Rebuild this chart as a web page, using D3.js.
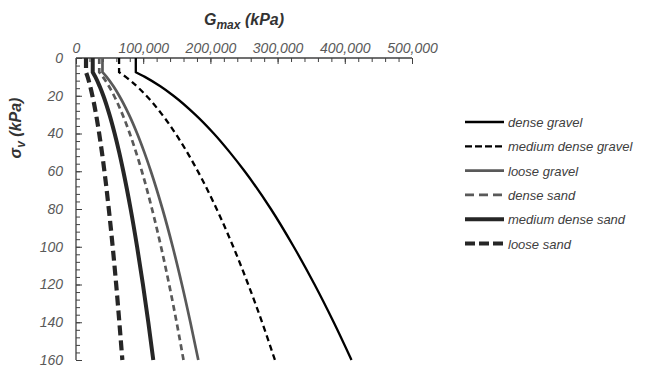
<!DOCTYPE html>
<html>
<head>
<meta charset="utf-8">
<script src="https://cdn.jsdelivr.net/npm/d3@7"></script>
<style>
  body { margin: 0; background: #fff; }
  svg { display: block; font-family: "Liberation Sans", Arial, sans-serif; }
</style>
</head>
<body>
<svg id="chart" width="647" height="368"></svg>
<script>
// vertical effective stress (kPa), read at these levels
const sigmaV = [0, 7.5, 10, 15, 20, 30, 40, 50, 60, 80, 100, 120, 140, 160];

// Gmax (kPa) at the sigmaV levels above
const denseGravel       = [89000, 89000, 102500, 125500, 145000, 177500, 205000, 229000, 251000, 290000, 324000, 355000, 383500, 410000];
const mediumDenseGravel = [64100, 64100, 74000, 90600, 104700, 128200, 148000, 165500, 181300, 209300, 234000, 256300, 276900, 296000];
const looseGravel       = [39400, 39400, 45500, 55700, 64300, 78800, 91000, 101700, 111400, 128700, 143900, 157600, 170200, 182000];
const denseSand         = [34600, 34600, 40000, 49000, 56600, 69300, 80000, 89400, 98000, 113100, 126500, 138600, 149700, 160000];
const mediumDenseSand   = [24900, 24900, 28800, 35200, 40700, 49800, 57500, 64300, 70400, 81300, 90900, 99600, 107600, 115000];
const looseSand         = [14900, 14900, 17300, 21100, 24400, 29900, 34500, 38600, 42300, 48800, 54600, 59800, 64500, 69000];

const xTicks = [0, 100000, 200000, 300000, 400000, 500000];
const yTicks = [0, 20, 40, 60, 80, 100, 120, 140, 160];

const series = [
  { name: 'dense gravel',        values: denseGravel,       color: '#000000', width: 2.3, dash: null,   legDash: null },
  { name: 'medium dense gravel', values: mediumDenseGravel, color: '#000000', width: 2.3, dash: '6,4',  legDash: '7,3' },
  { name: 'loose gravel',        values: looseGravel,       color: '#595959', width: 2.7, dash: null,   legDash: null },
  { name: 'dense sand',          values: denseSand,         color: '#595959', width: 2.7, dash: '6,4',  legDash: '9,5' },
  { name: 'medium dense sand',   values: mediumDenseSand,   color: '#262626', width: 4,   dash: null,   legDash: null },
  { name: 'loose sand',          values: looseSand,         color: '#262626', width: 4.2, dash: '10,5', legDash: '10,4' }
];

const svg = d3.select('#chart');
const m = { t: 58, l: 76, r: 235, b: 8 };
const W = 647, H = 368;

const x = d3.scaleLinear().domain([0, 500000]).range([m.l, W - m.r]);
const y = d3.scaleLinear().domain([0, 160]).range([m.t, H - m.b]);

const axisColor = '#404040';
const fmt = d3.format(',');

// top axis
const xAxis = svg.append('g')
  .attr('transform', `translate(0,${m.t})`)
  .call(d3.axisTop(x).tickValues(xTicks).tickSize(-6).tickPadding(5).tickFormat(fmt));
svg.append('g')
  .attr('transform', `translate(0,${m.t})`)
  .call(d3.axisTop(x).tickValues(d3.range(0, 500001, 20000)).tickSize(-4).tickFormat(''))
  .call(g => g.select('.domain').remove());

// left axis
const yAxis = svg.append('g')
  .attr('transform', `translate(${m.l},0)`)
  .call(d3.axisLeft(y).tickValues(yTicks).tickSize(-6).tickPadding(13));
svg.append('g')
  .attr('transform', `translate(${m.l},0)`)
  .call(d3.axisLeft(y).tickValues(d3.range(0, 161, 4)).tickSize(-4).tickFormat(''))
  .call(g => g.select('.domain').remove());

svg.selectAll('.tick line').attr('stroke', axisColor).attr('stroke-width', 1);
svg.selectAll('.tick text')
  .attr('fill', '#595959')
  .style('font-size', '14px')
  .style('font-style', 'italic');

// plain domain lines
xAxis.select('.domain').attr('d', `M${m.l},0H${W - m.r}`).attr('stroke', axisColor).attr('stroke-width', 1.3);
yAxis.select('.domain').attr('d', `M0,${m.t}V${H - m.b}`).attr('stroke', axisColor).attr('stroke-width', 1.3);

// curves: flat cap at the top, then smooth
const line = d3.line()
  .x(d => x(d[1]))
  .y(d => y(d[0]))
  .curve(d3.curveMonotoneY);

series.forEach(s => {
  const pts = sigmaV.map((v, i) => [v, s.values[i]]);
  const head = `M${x(pts[0][1])},${y(pts[0][0])}`;
  const tail = line(pts.slice(1)).replace(/^M/, 'L');
  svg.append('path')
    .attr('d', head + tail)
    .attr('fill', 'none')
    .attr('stroke', s.color)
    .attr('stroke-width', s.width)
    .attr('stroke-dasharray', s.dash);
});

// axis titles
const xt = svg.append('text')
  .attr('x', x(250000))
  .attr('y', 25)
  .attr('text-anchor', 'middle')
  .attr('fill', '#333')
  .style('font-size', '16px')
  .style('font-weight', 'bold')
  .style('font-style', 'italic');
xt.append('tspan').text('G');
xt.append('tspan').attr('dy', 4).style('font-size', '12px').text('max');
xt.append('tspan').attr('dy', -4).text(' (kPa)');

const yt = svg.append('text')
  .attr('transform', 'translate(21,128) rotate(-90)')
  .attr('text-anchor', 'middle')
  .attr('fill', '#333')
  .style('font-size', '16px')
  .style('font-weight', 'bold')
  .style('font-style', 'italic');
yt.append('tspan').text('σ');
yt.append('tspan').attr('dy', 4).style('font-size', '12px').text('v');
yt.append('tspan').attr('dy', -4).text(' (kPa)');

// legend
const leg = svg.append('g').attr('transform', 'translate(465,122)');
series.forEach((s, i) => {
  const g = leg.append('g').attr('transform', `translate(0,${i * 24.3})`);
  g.append('line')
    .attr('x1', 0).attr('x2', 39).attr('y1', 0).attr('y2', 0)
    .attr('stroke', s.color)
    .attr('stroke-width', s.width)
    .attr('stroke-dasharray', s.legDash);
  g.append('text')
    .attr('x', 43).attr('y', 5)
    .attr('fill', '#404040')
    .style('font-size', '13px')
    .style('font-style', 'italic')
    .text(s.name);
});
</script>
</body>
</html>
